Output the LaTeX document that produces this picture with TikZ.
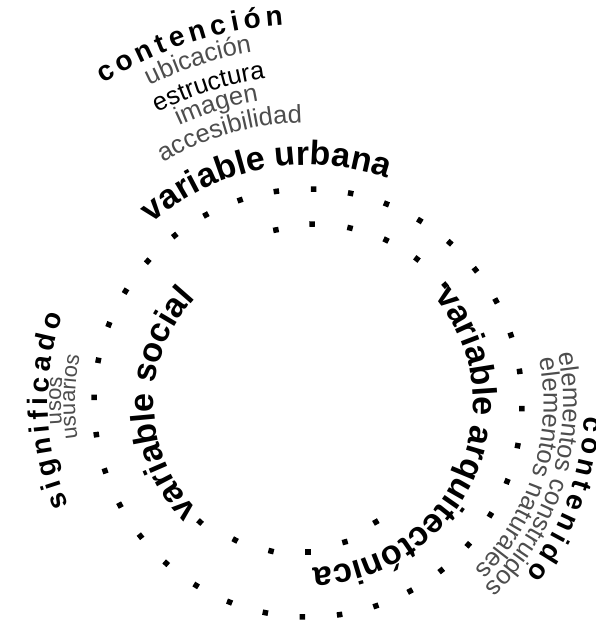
\documentclass[tikz,border=0pt]{standalone}
\usepackage{fontspec}
\setmainfont{Liberation Sans}
\newfontfamily\catfamily{Liberation Sans}[WordSpace=0.6]
\usepackage{xcolor}
\usetikzlibrary{decorations.text}
\definecolor{itemgray}{HTML}{4D4D4D}
\newcommand{\varfont}{\fontsize{34}{40}\selectfont\bfseries}
\newcommand{\catfont}{\catfamily\fontsize{28}{32}\selectfont\bfseries}
\newcommand{\itemfont}{\fontsize{25.5}{30}\selectfont}
\newcommand{\smallitemfont}{\fontsize{22}{26}\selectfont}
\tikzset{
  dot/.style       = {rectangle, fill=black, inner sep=0pt, minimum size=5.5pt},
  ringtext/.style  = {decorate, decoration={text along path, text align=center, text={#1}}},
  vartext/.style   = {ringtext={|\varfont|#1}},
  cattext/.style   = {ringtext={|\catfont|#1}},
  itemtext/.style  = {ringtext={|\itemfont\color{itemgray}|#1}},
  keytext/.style   = {ringtext={|\itemfont|#1}},
  smalltext/.style = {ringtext={|\smallitemfont\color{itemgray}|#1}}
}

\begin{document}
\begin{tikzpicture}[x=1pt, y=1pt]
  \useasboundingbox (-308,-220) rectangle (288,403);
  \coordinate (c) at (0,0);
  % outer ring
  \foreach \a [count=\i] in {0,10,...,350}
    \node[dot, rotate=\a+8.5] (out\i) at ({\a+8.5}:214) {};
  % inner dots, top and bottom
  \foreach \a/\r [count=\i] in {100.5/176, 88.7/179, 76.5/180, 64.4/180.7, 52.9/180.6, 40.7/180.8,
                                -60.3/137, -75.1/143.8, -90/149, -104/152.6, -118/155.2, -132.2/160.7}
    \node[dot, rotate=\a] (in\i) at (\a:\r) {};

  % the three variables
  \path[vartext={variable urbana}]        (170.7:238) arc[start angle=170.7, end angle=30.7, radius=238];
  \path[vartext={variable social}]        (245.6:154) arc[start angle=245.6, end angle=115.6, radius=154];
  \path[vartext={variable arquitectónica}] (56:165)   arc[start angle=56, end angle=-104, radius=165];

  % urbana
  \path[cattext={c o n t e n c i ó n}] (138.2:379) arc[start angle=138.2, end angle=78.2, radius=379];
  \path[itemtext={ubicación}]     (137.75:355) arc[start angle=137.75, end angle=77.75, radius=355];
  \path[keytext={estructura}]     (137.45:327) arc[start angle=137.45, end angle=77.45, radius=327];
  \path[itemtext={imagen}]        (137.1:306)  arc[start angle=137.1, end angle=77.1, radius=306];
  \path[itemtext={accesibilidad}] (146.1:280.5) arc[start angle=146.1, end angle=66.1, radius=280.5];

  % social
  \path[cattext={s i g n i f i c a d o}] (226.8:260) arc[start angle=226.8, end angle=136.8, radius=260];
  \path[smalltext={usos}]     (199.5:247) arc[start angle=199.5, end angle=159.5, radius=247];
  \path[smalltext={usuarios}] (203.5:233) arc[start angle=203.5, end angle=153.5, radius=233];

  % arquitectonica
  \path[cattext={c o n t e n i d o}] (14.6:277) arc[start angle=14.6, end angle=-55.4, radius=277];
  \path[itemtext={elementos construidos}] (27.5:255)  arc[start angle=27.5, end angle=-62.5, radius=255];
  \path[itemtext={elementos naturales}]   (27.9:235.5) arc[start angle=27.9, end angle=-62.1, radius=235.5];
\end{tikzpicture}
\end{document}
